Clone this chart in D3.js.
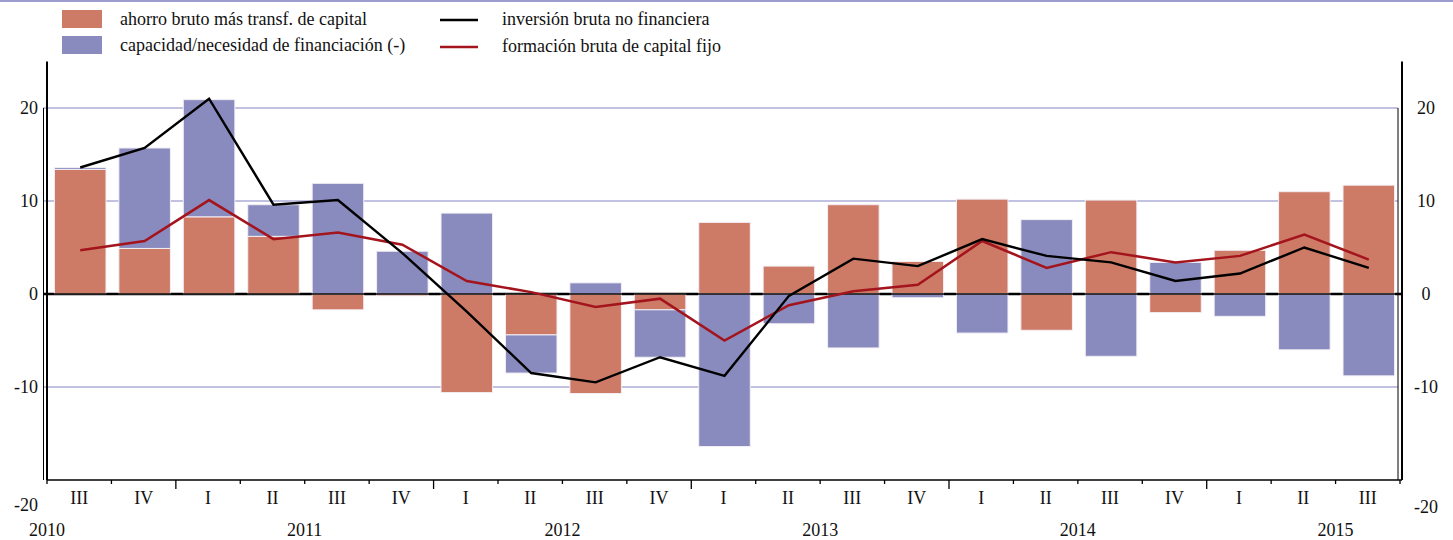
<!DOCTYPE html>
<html>
<head>
<meta charset="utf-8">
<script src="https://cdn.jsdelivr.net/npm/d3@7"></script>
<style>
  body { margin: 0; background: #fff; }
  text { font-family: "Liberation Serif", "Times New Roman", serif; fill: #111; }
</style>
</head>
<body>
<svg id="chart" width="1453" height="540"></svg>
<script>
// quarters 2010 III .. 2015 III
const quarters = ["III","IV","I","II","III","IV","I","II","III","IV","I","II","III","IV","I","II","III","IV","I","II","III"];
const years = [2010, 2011, 2012, 2013, 2014, 2015];
const ahorro = [13.4, 4.9, 8.3, 6.2, -1.7, -0.2, -10.6, -4.4, -10.7, -1.7, 7.7, 3.0, 9.6, 3.5, 10.2, -3.9, 10.1, -2.0, 4.7, 11.0, 11.7];
const capacidad = [0.2, 10.8, 12.6, 3.4, 11.9, 4.6, 8.7, -4.1, 1.2, -5.1, -16.4, -3.2, -5.8, -0.4, -4.2, 8.0, -6.7, 3.4, -2.4, -6.0, -8.8];
const inversion = [13.6, 15.7, 21.0, 9.6, 10.1, 4.4, -1.9, -8.5, -9.5, -6.8, -8.8, -0.2, 3.8, 3.0, 5.9, 4.1, 3.4, 1.4, 2.2, 5.0, 2.8];
const fbcf = [4.7, 5.7, 10.1, 5.9, 6.6, 5.3, 1.4, 0.2, -1.4, -0.5, -5.0, -1.2, 0.3, 1.0, 5.7, 2.8, 4.5, 3.4, 4.1, 6.4, 3.7];
const yTicks = [-20, -10, 0, 10, 20];
const gridTicks = [-10, 10, 20];

const svg = d3.select("#chart");
const left = 47, right = 1400, inner = 4;

const x = d3.scaleBand().domain(d3.range(quarters.length))
  .range([left, right]).paddingInner(0.2).paddingOuter(0.1);
const step = x.step();
const y = d3.scaleLinear().domain([-20, 25]).range([480, 61.5]);

const colRed = "#cd7b67", colBlue = "#898bbe", colGrid = "#adaed8";

// top border
svg.append("line").attr("x1", 0).attr("x2", 1453).attr("y1", 1).attr("y2", 1)
  .attr("stroke", "#9d9dcf").attr("stroke-width", 2);

// grid
svg.append("g").selectAll("line").data(gridTicks).join("line")
  .attr("x1", left - inner).attr("x2", right - 2)
  .attr("y1", d => y(d)).attr("y2", d => y(d))
  .attr("stroke", colGrid).attr("stroke-width", 1.3);

// zero line under bars
svg.append("line").attr("x1", left - inner).attr("x2", right + 2)
  .attr("y1", y(0)).attr("y2", y(0)).attr("stroke", "#000").attr("stroke-width", 2.4);

// stacked bars
const rows = quarters.map((q, i) => ({ i, ahorro: ahorro[i], capacidad: capacidad[i] }));
const series = d3.stack().keys(["ahorro", "capacidad"]).offset(d3.stackOffsetDiverging)(rows);
const colors = { ahorro: colRed, capacidad: colBlue };

svg.append("g").selectAll("g").data(series).join("g")
  .attr("fill", d => colors[d.key])
  .selectAll("rect").data(d => d).join("rect")
  .attr("x", d => x(d.data.i) + 1)
  .attr("width", x.bandwidth())
  .attr("y", d => y(Math.max(d[0], d[1])))
  .attr("height", d => Math.abs(y(d[0]) - y(d[1])))
  .attr("stroke", "#f3eef4").attr("stroke-width", 1);

// thin zero line over bars
svg.append("line").attr("x1", left - inner).attr("x2", right + 2)
  .attr("y1", y(0)).attr("y2", y(0)).attr("stroke", "#000").attr("stroke-width", 1.3);

// lines
const line = d3.line().x((d, i) => x(i) + x.bandwidth() / 2 + 1).y(d => y(d));
svg.append("path").datum(fbcf).attr("d", line)
  .attr("fill", "none").attr("stroke", "#a3141c").attr("stroke-width", 2.5);
svg.append("path").datum(inversion).attr("d", line)
  .attr("fill", "none").attr("stroke", "#000").attr("stroke-width", 2.4);

// y axes (double lines)
svg.append("line").attr("x1", left).attr("x2", left).attr("y1", y(25)).attr("y2", y(-20))
  .attr("stroke", "#000").attr("stroke-width", 2);
svg.append("line").attr("x1", left - inner + 0.5).attr("x2", left - inner + 0.5).attr("y1", y(20)).attr("y2", y(-20))
  .attr("stroke", "#000").attr("stroke-width", 1);
svg.append("line").attr("x1", right + 2).attr("x2", right + 2).attr("y1", y(25)).attr("y2", y(-20))
  .attr("stroke", "#000").attr("stroke-width", 2);
svg.append("line").attr("x1", right - 2).attr("x2", right - 2).attr("y1", y(20)).attr("y2", y(-20))
  .attr("stroke", "#000").attr("stroke-width", 1);

// y labels
const yl = svg.append("g").attr("font-size", 18);
yl.selectAll("text.l").data(yTicks).join("text").attr("class", "l")
  .attr("x", left - 9).attr("y", d => y(d) + (d === -20 ? 25 : 0))
  .attr("text-anchor", "end").attr("dominant-baseline", "central").text(d => d);
yl.selectAll("text.r").data(yTicks).join("text").attr("class", "r")
  .attr("x", right + 26).attr("y", d => y(d) + (d === -20 ? 27 : 0))
  .attr("text-anchor", "middle").attr("dominant-baseline", "central").text(d => d);

// x axis
svg.append("line").attr("x1", left).attr("x2", right + 2).attr("y1", y(-20)).attr("y2", y(-20))
  .attr("stroke", "#000").attr("stroke-width", 1.3);
const bounds = d3.range(quarters.length + 1);
svg.append("g").selectAll("line").data(bounds).join("line")
  .attr("x1", b => left + b * step).attr("x2", b => left + b * step)
  .attr("y1", y(-20))
  .attr("y2", b => y(-20) + (quarters[b] === "I" ? 9 : 4))
  .attr("stroke", "#000").attr("stroke-width", 1.3);

svg.append("g").attr("font-size", 18).selectAll("text").data(quarters).join("text")
  .attr("x", (d, i) => x(i) + x.bandwidth() / 2).attr("y", 498)
  .attr("text-anchor", "middle").attr("dominant-baseline", "central").text(d => d);

// year labels, centred on the full calendar year
svg.append("g").attr("font-size", 18).selectAll("text").data(years).join("text")
  .attr("x", d => left + (d - 2010) * 4 * step).attr("y", 530)
  .attr("text-anchor", "middle").attr("dominant-baseline", "central").text(d => d);

// legend
const lg = svg.append("g").attr("font-size", 18);
lg.append("rect").attr("x", 62).attr("y", 10).attr("width", 40).attr("height", 18).attr("fill", colRed);
lg.append("rect").attr("x", 62).attr("y", 36).attr("width", 40).attr("height", 18).attr("fill", colBlue);
lg.append("text").attr("x", 120).attr("y", 19).attr("dominant-baseline", "central").text("ahorro bruto más transf. de capital");
lg.append("text").attr("x", 120).attr("y", 45).attr("dominant-baseline", "central").text("capacidad/necesidad de financiación (-)");
lg.append("line").attr("x1", 440).attr("x2", 478).attr("y1", 20).attr("y2", 20).attr("stroke", "#000").attr("stroke-width", 2.4);
lg.append("line").attr("x1", 440).attr("x2", 478).attr("y1", 47).attr("y2", 47).attr("stroke", "#a3141c").attr("stroke-width", 2.5);
lg.append("text").attr("x", 502).attr("y", 19).attr("dominant-baseline", "central").text("inversión bruta no financiera");
lg.append("text").attr("x", 502).attr("y", 46).attr("dominant-baseline", "central").text("formación bruta de capital fijo");
</script>
</body>
</html>
